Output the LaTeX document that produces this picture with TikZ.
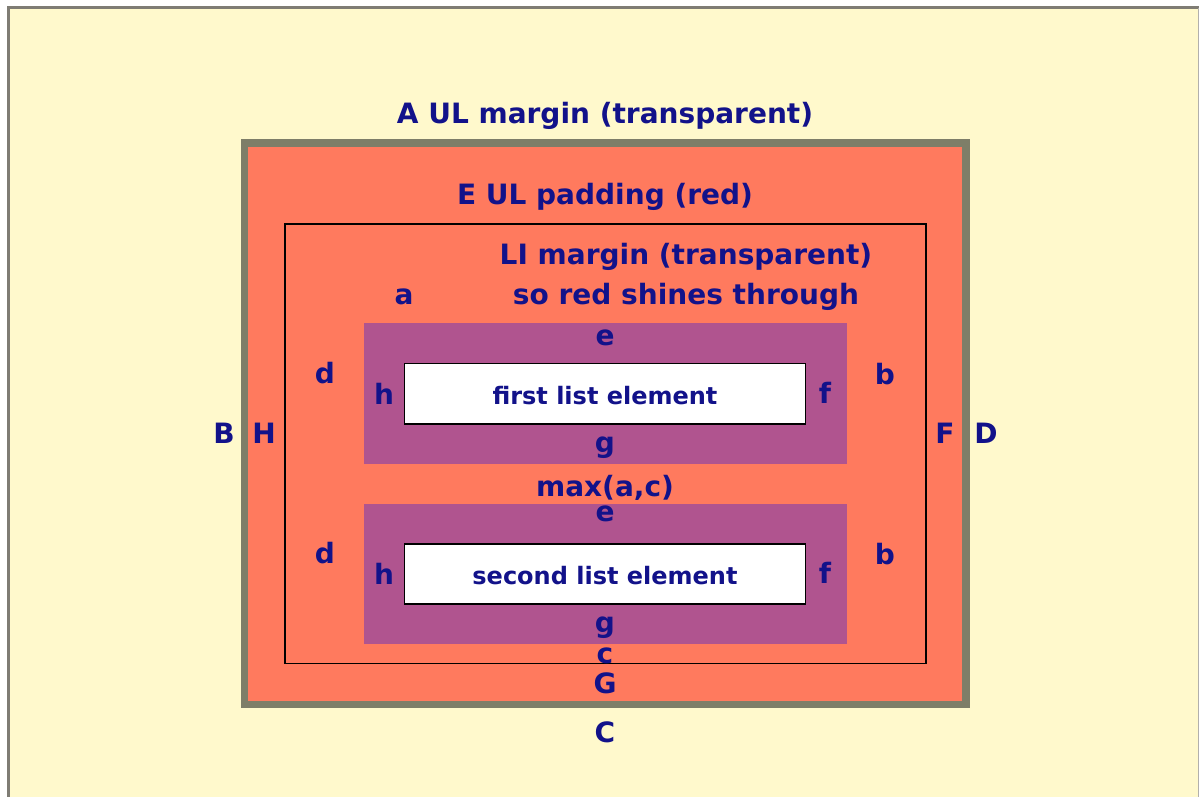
\documentclass[tikz,border=0pt]{standalone}
\usepackage{fontspec}
\setmainfont{DejaVu Sans}
\definecolor{pagebg}{HTML}{FFF9CC}
\definecolor{pageedge}{HTML}{7F7C74}
\definecolor{ulborder}{HTML}{7E7E68}
\definecolor{ulpad}{HTML}{FF7A5E}
\definecolor{liborder}{HTML}{B0548F}
\definecolor{ink}{HTML}{12128A}
\tikzset{
  big/.style={text=ink, font=\fontsize{28}{32}\selectfont\bfseries, inner sep=0pt, anchor=base},
  small/.style={text=ink, font=\fontsize{24}{28}\selectfont\bfseries, inner sep=0pt, anchor=base},
  content/.style={fill=white, draw=black, line width=1.6pt},
}
\begin{document}
\begin{tikzpicture}[x=1pt, y=-1pt]
  \useasboundingbox (0,0) rectangle (1202,796);
  \fill[white] (0,0) rectangle (1202,796);
  % page
  \fill[pagebg] (8,7.5) rectangle (1198.5,800);
  \draw[pageedge, line width=3pt] (8,800) -- (8,7.5) -- (1198.5,7.5);
  \draw[pageedge!60, line width=1.5pt] (1198.5,7.5) -- (1198.5,800);
  % UL box: border + padding
  \draw[ulborder, fill=ulpad, line width=7.5pt] (244.5,143) rectangle (966,704.5);
  % LI margin outline
  \draw[black, line width=1.6pt] (285,224) rectangle (926,663.5);
  % list items
  \fill[liborder] (364,323) rectangle (846.5,464);
  \fill[liborder] (364,503.5) rectangle (846.5,644);
  \draw[content] (404.5,363.5) rectangle (805.5,424);
  \draw[content] (404.5,544) rectangle (805.5,604);

  % labels (positions are baselines)
  \node[big] (tA) at (605,123.5) {A UL margin (transparent)};
  \node[big] (tE) at (605,204) {E UL padding (red)};
  \node[big] (tLI) at (686,264.5) {LI margin (transparent)};
  \node[big] (tRed) at (686,304) {so red shines through};
  \node[big] (la) at (404,304) {a};
  \node[big] (le1) at (605,345) {e};
  \node[big] (ld1) at (325,383) {d};
  \node[big] (lb1) at (885,384) {b};
  \node[big] (lh1) at (384,404) {h};
  \node[small] (t1) at (605,404) {first list element};
  \node[big] (lf1) at (825,403.5) {f};
  \node[big] (lB) at (224,443) {B};
  \node[big] (lH) at (264,443) {H};
  \node[big] (lF) at (945,443) {F};
  \node[big] (lD) at (986,443) {D};
  \node[big] (lg1) at (605,452) {g};
  \node[big] (tmax) at (605,496) {max(a,c)};
  \node[big] (le2) at (605,521.5) {e};
  \node[big] (ld2) at (325,563) {d};
  \node[big] (lb2) at (885,564) {b};
  \node[big] (lh2) at (384,584) {h};
  \node[small] (t2) at (605,584) {second list element};
  \node[big] (lf2) at (825,583.5) {f};
  \node[big] (lg2) at (605,632) {g};
  \node[big] (lc) at (605,663) {c};
  \node[big] (lG) at (605,693) {G};
  \node[big] (lC) at (605,742.5) {C};
\end{tikzpicture}
\end{document}
